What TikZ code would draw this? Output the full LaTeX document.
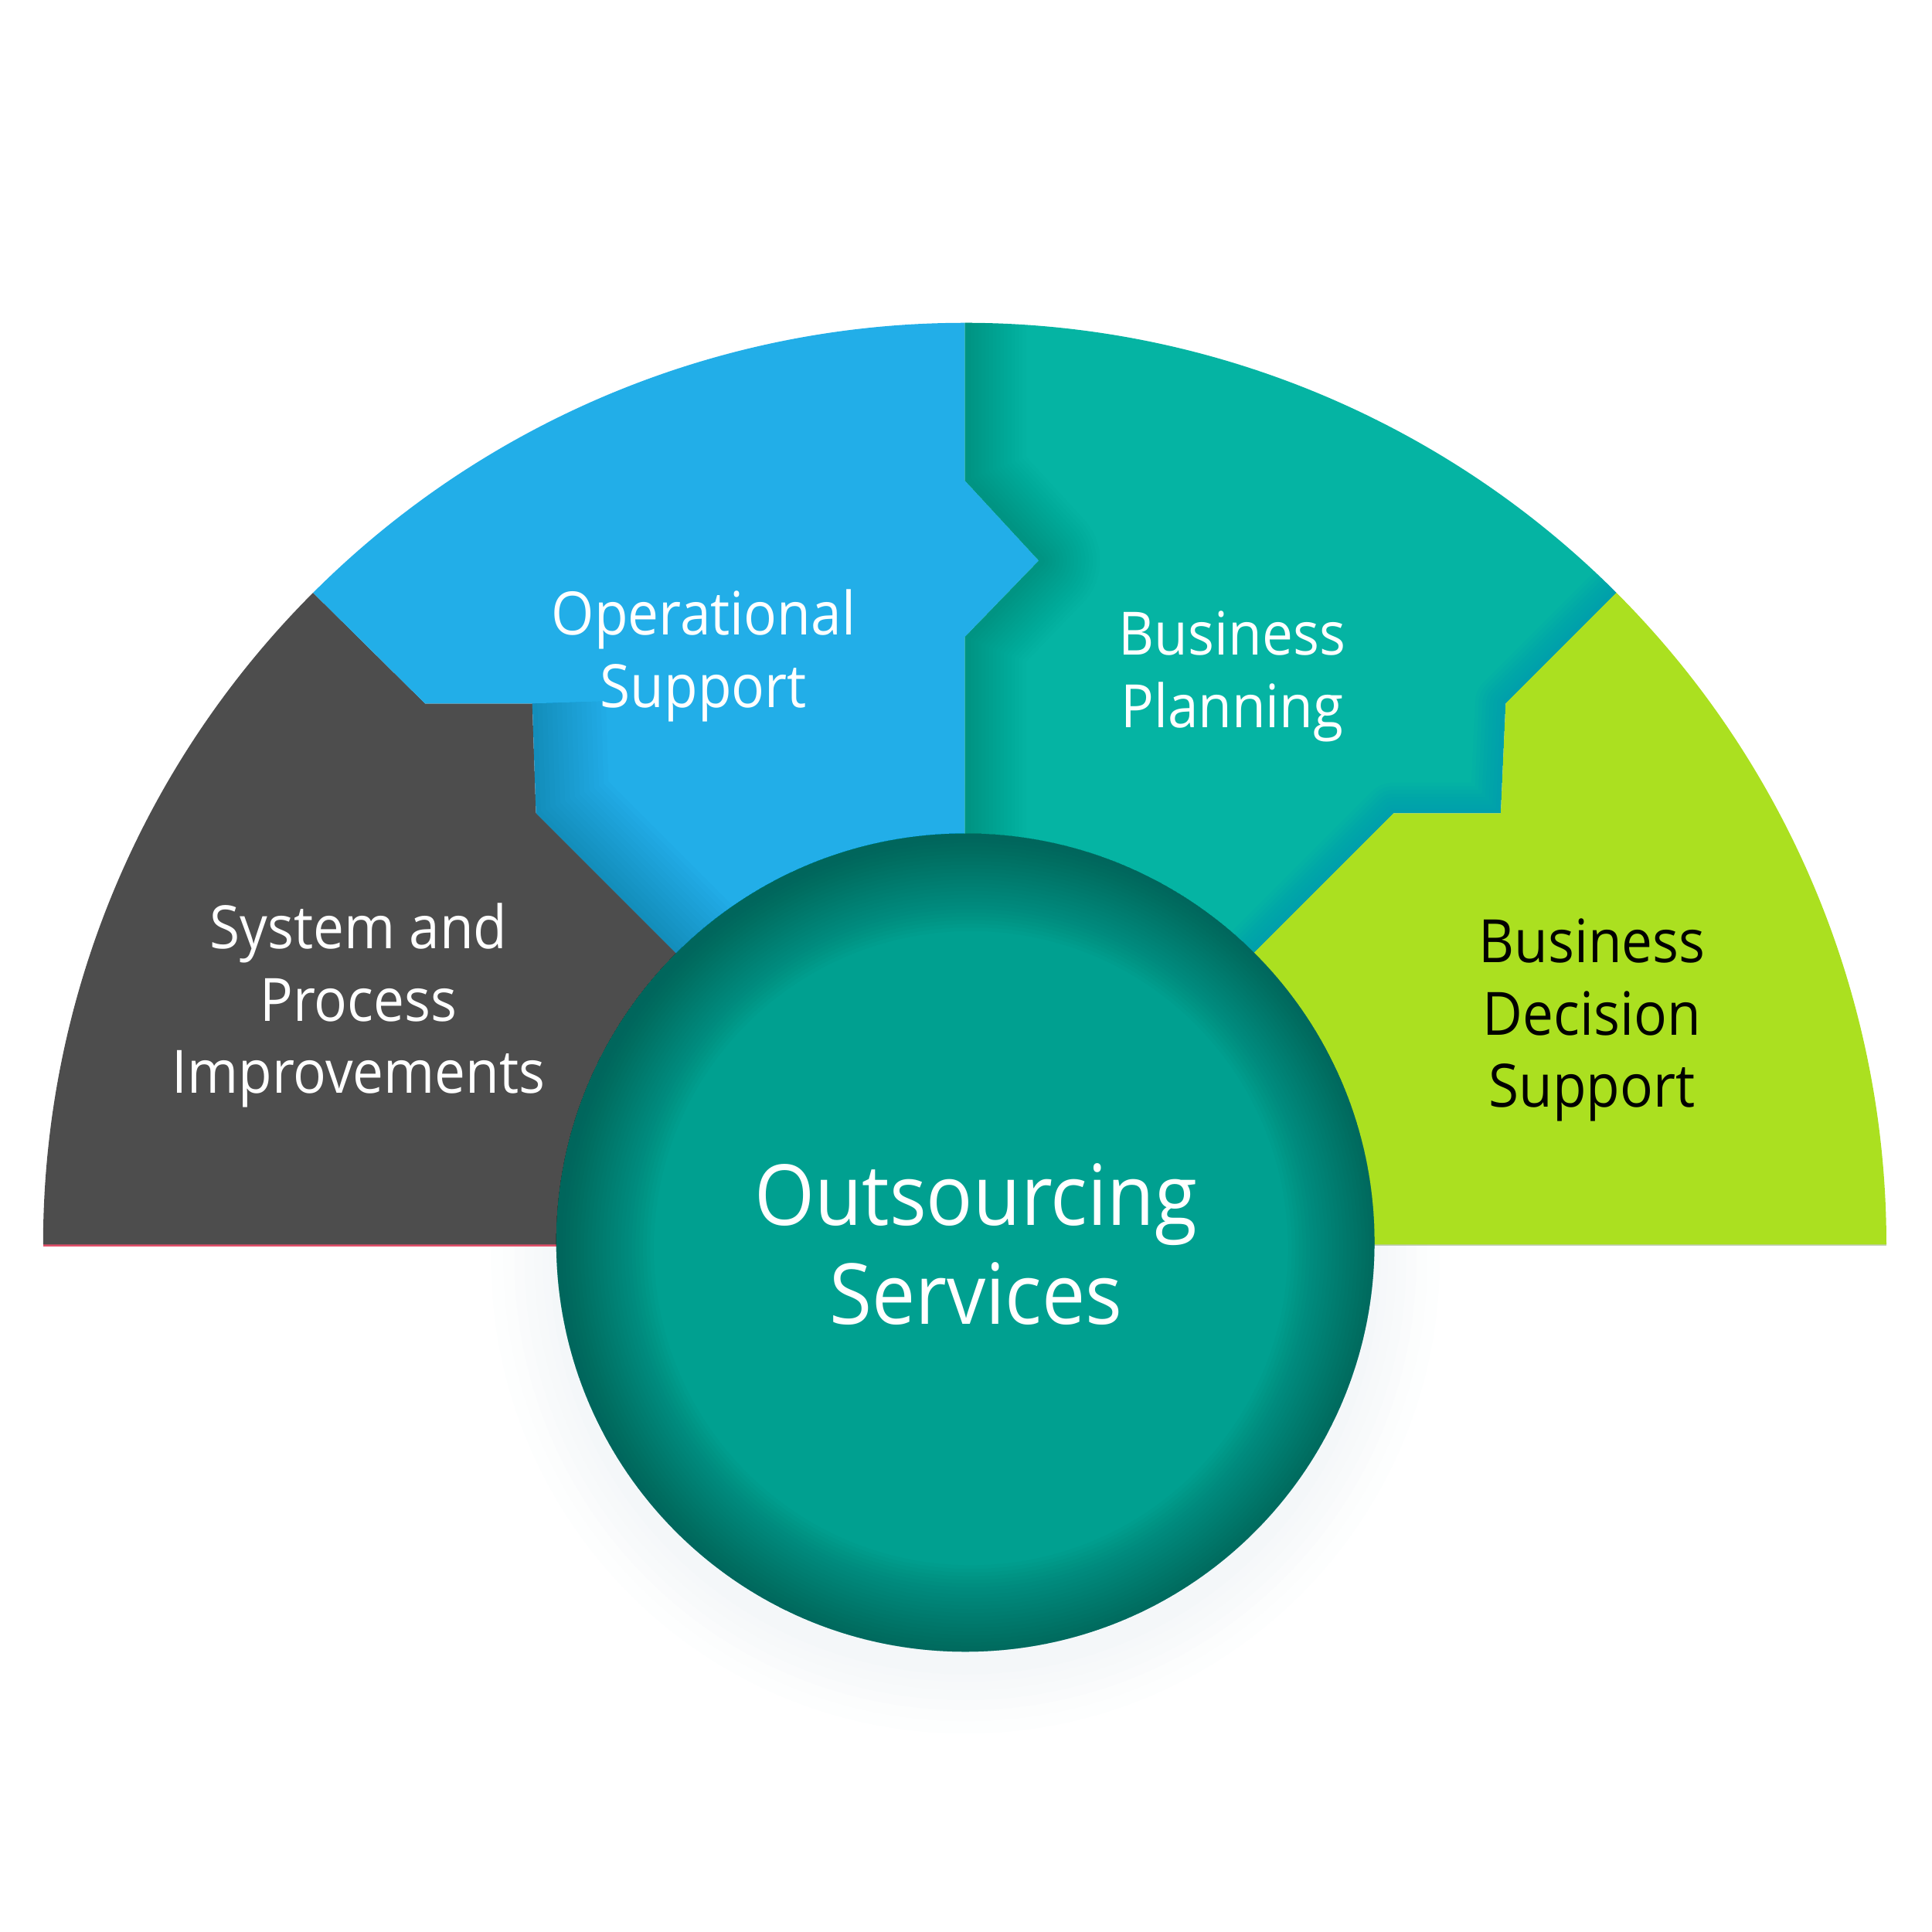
\documentclass[tikz,border=0pt]{standalone}
\usepackage{fontspec}
\setmainfont{Open Sans}[FakeStretch=0.92]
\definecolor{cGray}{HTML}{4D4D4D}
\definecolor{cBlue}{HTML}{22AEE8}
\definecolor{cTeal}{HTML}{05B4A3}
\definecolor{cGreen}{HTML}{ABE020}
\definecolor{ballC}{HTML}{00A090}
\definecolor{ballR}{HTML}{00433D}
\definecolor{haloC}{HTML}{B8CDD6}
\definecolor{baseRed}{HTML}{E0506A}
\definecolor{baseGrn}{HTML}{9AAF88}
\tikzset{
  lbl/.style={font=\fontsize{22pt}{26.6pt}\selectfont, align=center, inner sep=0pt},
  biglbl/.style={font=\fontsize{31pt}{36.3pt}\selectfont, align=center, inner sep=0pt, text=white},
}
\begin{document}
\begin{tikzpicture}[x=0.015944cm, y=0.015944cm]
\useasboundingbox (0,0) rectangle (1568,1568);
% key points
\coordinate (O) at (783,558);
\coordinate (L) at (35,558);
\coordinate (A1) at (254.1,1086.9);
\coordinate (A2) at (345,997);
\coordinate (A3) at (432,997);
\coordinate (A4) at (435,908);
\coordinate (A5) at (548,795);
\coordinate (B1) at (783,1306);
\coordinate (B2) at (783,1178);
\coordinate (B3) at (843,1113);
\coordinate (B4) at (783,1051);
\coordinate (G1) at (1311.9,1086.9);
\coordinate (G2) at (1222,997);
\coordinate (G3) at (1218,908);
\coordinate (G4) at (1131,908);
\coordinate (G5) at (1018,795);
\coordinate (R) at (1531,558);
\coordinate (C) at (783.5,559.5);
\coordinate (Cs) at (788,555);
\coordinate (Ch) at (783.5,546);
% halo under circle
\foreach \r in {385,375,366,358,350,343,337}
  \fill[haloC, opacity=0.025] (Ch) circle[radius=\r];
% thin base lines
\draw[baseRed, line width=1.6pt] (L) -- (O);
\draw[baseGrn, opacity=0.6, line width=1.2pt] (O) -- (R);
% segments
\fill[cGray] (L) arc[start angle=180, end angle=135, radius=748] -- (A2) -- (A3) -- (A4) -- (A5) -- (O) -- cycle;
\fill[cBlue] (A1) arc[start angle=135, end angle=90, radius=748] -- (B2) -- (B3) -- (B4) -- (O) -- (A5) -- (A4) -- (A3) -- (A2) -- cycle;
\fill[cTeal] (B1) arc[start angle=90, end angle=45, radius=748] -- (G2) -- (G3) -- (G4) -- (G5) -- (O) -- (B4) -- (B3) -- (B2) -- cycle;
\fill[cGreen] (G1) arc[start angle=45, end angle=0, radius=748] -- (O) -- (G5) -- (G4) -- (G3) -- (G2) -- cycle;
% soft shadows along the borders
\begin{scope}
  \clip (A1) arc[start angle=135, end angle=90, radius=748] -- (B2) -- (B3) -- (B4) -- (O) -- (A5) -- (A4) -- (A3) -- (A2) -- cycle;
  \foreach \w in {120,112,...,8}
    \draw[black, opacity=0.012, line width=\w*0.452pt, line join=round] (A3) -- (A4) -- (A5) -- (O);
\end{scope}
\begin{scope}
  \clip (B1) arc[start angle=90, end angle=45, radius=748] -- (G2) -- (G3) -- (G4) -- (G5) -- (O) -- (B4) -- (B3) -- (B2) -- cycle;
  \foreach \w in {100,94,...,6}
    \draw[black, opacity=0.008, line width=\w*0.452pt, line join=round] (B1) -- (B2) -- (B3) -- (B4) -- (O);
  \foreach \w in {50,44,...,8}
    \draw[blue, opacity=0.01, line width=\w*0.452pt, line join=round] (G1) -- (G2) -- (G3) -- (G4) -- (G5) -- (O);
\end{scope}
% central circle with darker rim
\fill[ballC] (C) circle[radius=332];
\begin{scope}
  \clip (C) circle[radius=332];
  \foreach \w in {156,150,...,6}
    \draw[ballR, opacity=0.028, line width=\w*0.452pt] (Cs) circle[radius=335];
\end{scope}
% labels
\node[lbl, text=white] (ops) at (571,1036) {Operational\\Support};
\node[lbl, text=white] (plan) at (1000,1019) {Business\\Planning};
\node[lbl, text=white] (spi) at (291,752) {System and\\Process\\Improvements};
\node[lbl, text=black] (bds) at (1292,740) {Business\\Decision\\Support};
\node[biglbl] (core) at (792,558) {Outsourcing\\Services};
\end{tikzpicture}
\end{document}
